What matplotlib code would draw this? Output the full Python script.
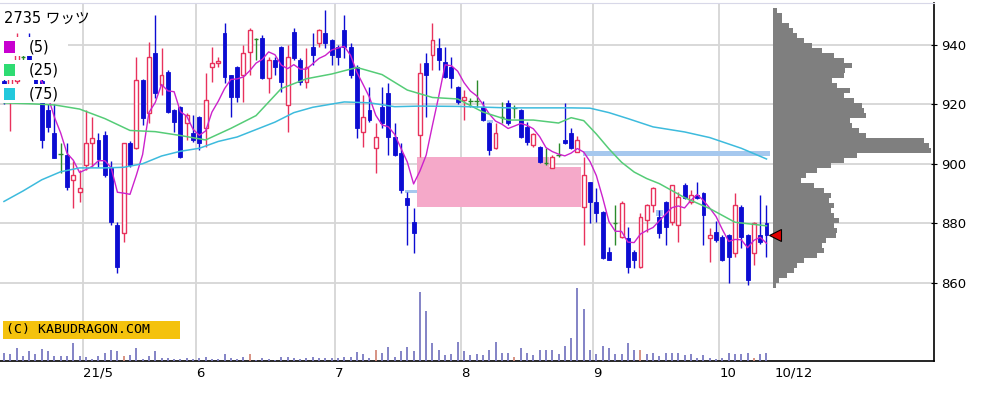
import numpy as np
import matplotlib
matplotlib.use("Agg")
import matplotlib.pyplot as plt
from matplotlib.patches import Rectangle

plt.rcParams['font.family'] = ['DejaVu Sans', 'Noto Sans CJK JP']

# daily OHLC, 2021/4 .. 2021/10/12 (one row per trading day)
opens = [928, 922, 928, 936, 940, 930, 928, 918, 910.3, 903.2,
         903, 894.5, 890.5, 899.5, 907, 908, 909.7, 898.6, 879.4, 876.7,
         907, 905.3, 928.2, 917, 937.3, 926.5, 931, 918, 919, 913.7,
         910.4, 915.8, 912, 932.6, 934, 944, 929.9, 932.6, 929.9, 937.6,
         942, 942.3, 928.9, 935, 939.3, 919.8, 944.4, 935, 927.5, 939.3,
         940.6, 944, 941.7, 939.3, 945, 939.3, 932.6, 910.7, 918.1, 905.3,
         919, 923.8, 909, 903.6, 888.5, 880.4, 909.7, 934, 936.6, 939,
         934.3, 932.6, 925.8, 921.5, 921, 921, 919, 913.7, 905.3, 915.8,
         920.5, 918.8, 918, 912.4, 906.3, 905.7, 900.3, 898.6, 903, 908,
         910.4, 904, 885.5, 893.9, 887.1, 883.8, 870.3, 880, 875.4, 875,
         870.3, 865.3, 881, 886.1, 882, 887.1, 880.4, 879.4, 892.9, 887.1,
         889.5, 890.2, 875, 877, 875.4, 876, 870, 885.5, 876, 870,
         876, 880]
highs = [932, 935, 944, 938, 944, 932, 929, 920, 920, 907,
         907, 901, 898, 918, 915.8, 910.4, 911, 901, 880.4, 907,
         907.5, 936, 928.5, 941, 950, 939, 931.5, 918.5, 919.5, 917,
         916.4, 916, 930.6, 939.3, 936, 947.4, 930, 933, 940, 945.7,
         942.4, 943.4, 936, 936, 939.5, 940, 945.7, 935.5, 939, 944,
         945.5, 951.8, 942, 940, 950, 940.5, 933.3, 923.2, 925.8, 913.7,
         925.8, 927.2, 913.7, 907, 890.5, 885, 934, 937.3, 947.4, 942.4,
         939.3, 936, 926, 924.8, 922, 928.2, 921, 914, 913.7, 920.8,
         921.5, 919.8, 918.5, 914, 910.2, 906, 905.3, 903, 907, 920.5,
         912, 909.2, 902.3, 894, 891.8, 884, 872, 886, 887.5, 878.7,
         871, 883.4, 886.5, 892, 884.4, 887.5, 893, 890.5, 893.5, 891,
         893.9, 890.5, 878.4, 880.7, 876, 876.3, 890.2, 886, 876.3, 880.4,
         889.5, 886.1]
lows = [920, 911, 926, 933, 929, 924, 905.3, 910.7, 902, 897,
        891, 885, 887, 898, 899, 899, 895.5, 879.5, 863.2, 873.7,
        899, 905, 913, 913.7, 922, 923, 917, 910.7, 901.8, 908,
        907.3, 904.7, 905.6, 927.5, 932.6, 927.2, 915.8, 920.8, 920.8, 929.9,
        935, 928.5, 923.8, 930, 924.2, 910.7, 935, 926.5, 925.5, 933.3,
        939.3, 939, 933.3, 933.3, 935.6, 929, 908.7, 905.7, 914, 896.9,
        912, 903, 902.5, 890, 872.7, 870, 902.3, 915.8, 931.6, 931.6,
        929, 925.5, 920, 914.7, 919, 919, 914.5, 903, 905, 913.7,
        913, 915.4, 908.5, 906.3, 905.7, 900.4, 899.6, 898.6, 902.3, 906.5,
        905, 904, 872.7, 880, 880.4, 868, 867.5, 872.7, 875, 863.2,
        865, 865, 877, 883.8, 875, 872.7, 879.5, 873.7, 888, 886.5,
        888, 872.7, 867, 873.5, 867.3, 860, 868.6, 871.6, 859.2, 866,
        873, 868.6]
closes = [924, 930, 938, 936, 930, 926, 908, 912.5, 902, 903.2,
          892, 896.2, 891.8, 907, 908.5, 901.6, 896.2, 880.4, 865.3, 907,
          899.6, 928.2, 915.4, 936, 923.8, 930, 917.4, 914, 902.3, 916.4,
          908, 907, 921.5, 934, 934.6, 929.2, 922.5, 922.5, 937.3, 945,
          942, 928.9, 935, 932.6, 927.5, 936, 935.6, 927.5, 932.6, 936.6,
          945, 940.6, 936.6, 936, 939.3, 930, 912, 915.8, 914.7, 909,
          913.7, 909, 903, 891.2, 886.1, 876.7, 930.6, 930, 941.7, 935,
          929.2, 929, 920.8, 922.5, 921, 921, 914.7, 904.7, 910.4, 915.8,
          913.7, 918.8, 909, 907.3, 910, 900.6, 900.3, 902.3, 903, 907,
          905.3, 908, 896.2, 887.1, 883.4, 868.3, 867.6, 880, 886.8, 865.3,
          867.6, 882, 886, 891.8, 876.7, 878.7, 892.9, 888.8, 888.5, 889.5,
          888.5, 882.8, 876, 874.3, 867.6, 868.6, 886.1, 875.4, 861, 880,
          873.7, 876]

# volume (relative units)
volume = [7.7, 7, 12.7, 5, 10, 7, 11.7, 10, 5, 5,
          5, 17.7, 5, 4.3, 2, 5, 7.7, 11, 10, 5,
          6, 12.7, 2, 5, 10, 3.3, 2.7, 2, 2, 2.7,
          2, 3.3, 4.3, 2, 2, 6.7, 2.7, 2, 4.3, 6.7,
          1, 2.7, 2, 0.5, 4.3, 4.3, 2.7, 2, 2.7, 4.3,
          2.7, 2.7, 2.7, 3.3, 4.3, 4.3, 9.3, 7, 3.3, 11,
          7.7, 14.3, 4.3, 10, 14.3, 10, 69.3, 50.3, 17.7, 11,
          6, 6.7, 18.7, 10, 6, 6.7, 6, 11, 18.7, 7.7,
          7.7, 4.3, 12.7, 7.7, 6, 11, 11, 11, 6.7, 15.3,
          23.3, 72.7, 52, 11, 6.7, 15.3, 12.7, 6.7, 6.7, 17.7,
          11, 11, 6.7, 7.7, 5, 7.7, 7.7, 7.7, 6, 6.7,
          3.3, 6, 3.3, 2, 3.3, 7.7, 6.7, 6.7, 7.7, 3.3,
          6.7, 7.7]
volume_marked = [19, 39, 59, 81, 101, 119]

# 25 / 75 day moving averages (day index, price)
ma25_day = [0, 4, 8, 12, 16, 20, 24, 28, 32, 36, 40, 44, 48, 52, 56, 60, 64,
            68, 72, 76, 80, 84, 88, 90, 92, 94, 96, 98, 100, 102, 104, 108,
            112, 116, 121]
ma25_val = [920.5, 920.2, 919.8, 918.4, 915.2, 911.2, 910.8, 909.5, 908,
            911.9, 916.2, 925.3, 928.6, 930.2, 932.4, 930, 924.8, 922.3,
            921.8, 917.4, 914.7, 914.7, 913.7, 915.5, 914.5, 910, 905, 900.5,
            897.2, 895, 893.3, 888.6, 884.9, 880.3, 879.1]
ma75_day = [0, 3, 6, 9, 12, 16, 19, 22, 25, 28, 31, 34, 37, 40, 43, 46, 49,
            54, 58, 62, 66, 72, 80, 90, 93, 96, 99, 103, 108, 112, 117, 121]
ma75_val = [887.3, 890.8, 894.6, 897.3, 898.6, 898.6, 898.8, 900, 902.6,
            904.2, 905.2, 907.5, 909, 911.5, 914, 917.2, 919, 920.8, 920.5,
            919.2, 919.4, 919.3, 918.8, 918.8, 918.7, 917.2, 915.2, 912.4,
            910.7, 908.8, 905.2, 901.6]

# price-by-volume profile
profile_price = [951.5, 949.8, 948.1, 946.5, 944.8, 943.1, 941.4, 939.7,
                 938.1, 936.4, 934.7, 933.0, 931.3, 929.7, 928.0, 926.3,
                 924.6, 922.9, 921.3, 919.6, 917.9, 916.2, 914.5, 912.9,
                 911.2, 909.5, 907.8, 906.1, 904.5, 902.8, 901.1, 899.4,
                 897.7, 896.1, 894.4, 892.7, 891.0, 889.3, 887.7, 886.0,
                 884.3, 882.6, 880.9, 879.3, 877.6, 875.9, 874.2, 872.5,
                 870.9, 869.2, 867.5, 865.8, 864.1, 862.5, 860.8, 859.1]
profile_vol = [4, 9, 9, 15.7, 20, 24, 30.7, 39, 49, 60.7, 70.7, 79, 72, 70.7,
               59, 64, 77, 70.7, 80.7, 89, 90.7, 92.3, 77, 79, 85.7, 92.3,
               150.7, 155.7, 157.3, 84, 70.7, 57.3, 44, 32.3, 27.3, 40.7,
               50.7, 57.3, 55.7, 60.7, 57.3, 60.7, 65.7, 60.7, 64, 62.3,
               52.3, 49, 50.7, 44, 30.7, 24, 20.7, 14, 5.7, 2.3]

# open windows (gaps): start day, end day, low, high
gap_up = [(65.5, 86.5, 885.5, 902.4), (86.5, 91.5, 885.5, 899.0)]
gap_small = [(91.9, 121.6, 902.7, 904.2), (63.6, 65.5, 890.1, 891.3),
             (76.7, 77.6, 913.7, 914.7), (103.5, 104.5, 882.3, 884.3)]

month_start = [13, 31, 53, 73, 94, 114]
month_label = ["21/5", "6", "7", "8", "9", "10"]
last_label = "10/12"

RED = '#e8325c'
BLUE = '#0c0cd2'
GREEN = '#2a8a2a'

fig = plt.figure(figsize=(10.02, 3.97), dpi=100)
ax = fig.add_axes([0, 36 / 397, 933.5 / 1002, 358 / 397])
ax.set_xlim(-0.63, 147.5)
ax.set_ylim(833.6, 954.1)

o = np.array(opens)
h = np.array(highs)
l = np.array(lows)
c = np.array(closes)
x = np.arange(len(c))
up = c > o
dn = c < o
fl = c == o

# gap shading
for x0, x1, lo, hi in gap_up:
    ax.add_patch(Rectangle((x0, lo), x1 - x0, hi - lo, facecolor='#f5a9c9',
                           edgecolor='none', zorder=1))
for x0, x1, lo, hi in gap_small:
    ax.add_patch(Rectangle((x0, lo), x1 - x0, hi - lo, facecolor='#a6c8ee',
                           edgecolor='none', zorder=1))

# candles
ax.vlines(x[up], l[up], h[up], color=RED, lw=1, zorder=3)
ax.bar(x[up], (c - o)[up], bottom=o[up], width=0.62, facecolor='white',
       edgecolor=RED, lw=1, zorder=4)
ax.vlines(x[dn], l[dn], h[dn], color=BLUE, lw=1, zorder=3)
ax.bar(x[dn], (o - c)[dn], bottom=c[dn], width=0.62, facecolor=BLUE,
       edgecolor=BLUE, lw=0.6, zorder=4)
ax.vlines(x[fl], l[fl], h[fl], color=GREEN, lw=1, zorder=3)
ax.hlines(c[fl], x[fl] - 0.35, x[fl] + 0.35, color=GREEN, lw=1, zorder=4)

# moving averages
ma5 = np.convolve(c, np.ones(5) / 5, mode='valid')
ax.plot(x[4:], ma5, color='#cc22cc', lw=1, zorder=5)
ax.plot(ma25_day, ma25_val, color='#55cc77', lw=1.1, zorder=5)
ax.plot(ma75_day, ma75_val, color='#3dbbdd', lw=1.1, zorder=5)

# volume profile
ax.barh(profile_price, np.array(profile_vol) / 6.3, left=122.1, height=1.7,
        color='#7f7f7f', zorder=2)
ax.plot(122.4, c[-1], marker='<', ms=8, mfc='#e00000', mec='black', mew=0.8,
        zorder=6)

# volume bars on a twin axis
ax2 = ax.twinx()
ax2.set_ylim(0, 357)
ax2.set_yticks([])
for s in ax2.spines.values():
    s.set_visible(False)
vcol = ['#d48a7a' if i in volume_marked else '#7a7ac2' for i in x]
ax2.vlines(x, 0, volume, colors=vcol, lw=1.3)

# axes styling
ax.set_xticks(np.array(month_start) - 0.5, month_label)
ax.set_xticks([122.3], [last_label], minor=True)
for lbl in ax.get_xticklabels() + ax.get_xticklabels(minor=True):
    lbl.set_ha('left')
ax.tick_params(axis='x', which='both', length=0, pad=4, labelsize=9.5)
ax.set_yticks([860, 880, 900, 920, 940])
ax.yaxis.tick_right()
ax.yaxis.set_label_position('right')
ax.tick_params(axis='y', which='both', left=False, labelleft=False,
               right=True, labelright=True, direction='inout', length=5,
               pad=3, labelsize=9.5)
ax.grid(True, which='major', color='#d6d6d6', lw=1.3)
ax.set_axisbelow(True)
ax.spines['left'].set_visible(False)
ax.spines['top'].set_color('#d8d8e8')
ax.spines['bottom'].set_linewidth(1.2)
ax.spines['right'].set_linewidth(1.2)

# legend / title block
def fx(px):
    return px / 1002

def fy(py):
    return 1 - py / 397

for y0, y1 in [(8, 28), (37, 56), (60, 80), (84, 103)]:
    fig.add_artist(Rectangle((0, fy(y1)), fx(68), (y1 - y0) / 397,
                             transform=fig.transFigure, facecolor='white',
                             edgecolor='none', zorder=3))
fig.text(fx(4), fy(18), "2735 ワッツ", fontsize=10.5, va='center', zorder=4)
for yc, col, lab in [(47, '#c800d0', "(5)"), (70, '#2edc72', "(25)"),
                     (94, '#22c8dc', "(75)")]:
    fig.add_artist(Rectangle((fx(4), fy(yc + 6)), fx(11), 12 / 397,
                             transform=fig.transFigure, facecolor=col,
                             edgecolor='none', zorder=4))
    fig.text(fx(29), fy(yc), lab, fontsize=10.5, va='center', zorder=4)

fig.add_artist(Rectangle((fx(3), fy(339)), fx(177), 18 / 397,
                         transform=fig.transFigure, facecolor='#f4c20d',
                         edgecolor='none', zorder=3))
fig.text(fx(6), fy(330), "(C) KABUDRAGON.COM", fontsize=9.5,
         family='DejaVu Sans Mono', va='center', zorder=4)

fig.savefig("out.png", dpi=100)
